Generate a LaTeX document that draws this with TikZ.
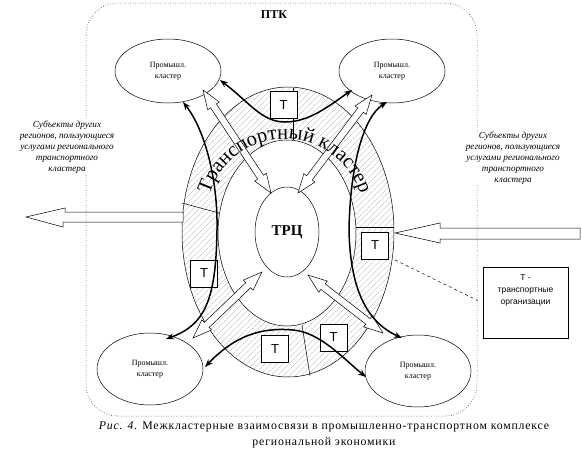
\documentclass[tikz,border=0pt]{standalone}
\usepackage{fontspec}
\setmainfont{Liberation Serif}
\setsansfont{Liberation Sans}
\usetikzlibrary{shapes.geometric,calc,patterns.meta,decorations.text,arrows.meta,positioning}

\newcommand{\arcfont}{\fontsize{20.5}{21}\selectfont}
\newcommand{\hollowarrow}[2]{%
  \draw[hollow] (#1)
    -- ($(#1)!19pt!(#2)!7pt!90:(#2)$)
    -- ($(#1)!19pt!(#2)!3.5pt!90:(#2)$)
    -- ($(#2)!19pt!(#1)!3.5pt!-90:(#1)$)
    -- ($(#2)!19pt!(#1)!7pt!-90:(#1)$)
    -- (#2)
    -- ($(#2)!19pt!(#1)!7pt!90:(#1)$)
    -- ($(#2)!19pt!(#1)!3.5pt!90:(#1)$)
    -- ($(#1)!19pt!(#2)!3.5pt!-90:(#2)$)
    -- ($(#1)!19pt!(#2)!7pt!-90:(#2)$)
    -- cycle;}

\begin{document}
\begin{tikzpicture}[x=1pt,y=-1pt,
    cluster/.style={ellipse,draw,line width=0.5pt,fill=white,minimum width=106pt,inner sep=0pt,align=center,font=\fontsize{8}{10.5}\selectfont},
    tbox/.style={draw,line width=0.5pt,fill=white,minimum size=27pt,inner sep=0pt,font=\sffamily\fontsize{13}{13}\selectfont},
    link/.style={line width=1.5pt,{Stealth[length=8pt,width=6pt]}-{Stealth[length=8pt,width=6pt]}},
    hollow/.style={draw,fill=white,line width=0.5pt},
    side/.style={fill=white,align=center,inner sep=1pt,font=\itshape\fontsize{9.2}{11}\selectfont},
    thinline/.style={line width=0.5pt}]
\def\HATCHCOLOR{gray!60}
\useasboundingbox (0,0) rectangle (582,456);

% ring of the transport cluster
\fill[pattern={Lines[angle=45,distance=4pt,line width=0.4pt]},pattern color=\HATCHCOLOR,even odd rule]
    (288,232) ellipse [x radius=106pt,y radius=145pt]
    (287,233) ellipse [x radius=69pt,y radius=93pt];
\draw[thinline] (288,232) ellipse [x radius=106pt,y radius=145pt];
\draw[thinline,fill=white] (287,233) ellipse [x radius=69pt,y radius=93pt];
\draw[thinline] (293,88) -- (293,140);
\draw[thinline] (182,203) -- (219,213);
\draw[thinline] (356,227) -- (394,227);
\draw[thinline] (302,325) -- (310,376);

\node[tbox] (ttop) at (283.5,105) {Т};
\node[tbox] (tright) at (375,245.5) {Т};
\node[tbox] (tleft) at (204,273.5) {Т};
\node[tbox] (tbl) at (275,349) {Т};
\node[tbox] (tbr) at (333.5,337.5) {Т};

\node[ellipse,draw,line width=0.5pt,fill=white,minimum width=64pt,minimum height=90pt,inner sep=0pt,
      font=\bfseries\fontsize{15}{15}\selectfont] (trc) at (287,232) {ТРЦ};

\node[cluster,minimum height=64pt] (ctl) at (168,71) {Промышл.\\кластер};
\node[cluster,minimum height=64pt] (ctr) at (392,71) {Промышл.\\кластер};
\node[cluster,minimum height=72pt] (cbl) at (150,369) {Промышл.\\кластер};
\node[cluster,minimum height=72pt] (cbr) at (418,371) {Промышл.\\кластер};

\coordinate (ea) at (203,90);  \coordinate (eb) at (271,193);
\coordinate (fa) at (372,95);  \coordinate (fb) at (298,193);
\coordinate (ga) at (193,338); \coordinate (gb) at (262,272);
\coordinate (ha) at (383,333); \coordinate (hb) at (308,275);
\hollowarrow{ea}{eb}
\hollowarrow{fa}{fb}
\hollowarrow{ga}{gb}
\hollowarrow{ha}{hb}

\coordinate (ringc) at (285,218);
\path[decorate,decoration={text along path,text align=center,
      text={|\arcfont|Транспортный кластер}}]
    (ringc) ++(166:79pt) arc[start angle=166,end angle=14,radius=79pt];

% links between the clusters
\coordinate (la) at (220,80);  \coordinate (lb) at (352,90);
\coordinate (lc) at (183,102); \coordinate (ld) at (166,339);
\coordinate (le) at (387,102); \coordinate (lf) at (402,338);
\coordinate (lg) at (205,367); \coordinate (lh) at (366,377);
\draw[link] (la) .. controls (250,103) and (262,122) .. (285,122)
    .. controls (310,122) and (330,105) .. (lb);
\draw[link] (lc) .. controls (205,130) and (218,180) .. (217,230)
    .. controls (216,300) and (205,325) .. (ld);
\draw[link] (le) .. controls (362,118) and (350,170) .. (349,230)
    .. controls (350,280) and (362,320) .. (lf);
\draw[link] (lg) .. controls (240,330) and (270,328) .. (293,330)
    .. controls (320,332) and (345,360) .. (lh);

% flows to and from other regions
\draw[hollow] (183,212) -- (65,212) -- (65,208) -- (26,217) -- (63,227) -- (63,222) -- (183,222) -- cycle;
\draw[hollow] (580,228) -- (440,228) -- (440,223) -- (395,233) -- (440,243) -- (440,239) -- (580,239) -- cycle;

\draw[dotted,thinline,rounded corners=32pt] (86,3) rectangle (477,416);
\node[font=\bfseries\fontsize{12}{12}\selectfont] (ptk) at (274,15) {ПТК};

\node[side] (regl) at (67,147) {Субъекты других\\регионов, пользующиеся\\услугами регионального\\транспортного\\кластера};
\node[side] (regr) at (513,158) {Субъекты других\\регионов, пользующиеся\\услугами регионального\\транспортного\\кластера};

\node[draw,thinline,minimum width=85pt,minimum height=71pt] (legend) at (525.5,302.5) {};
\node[align=center,font=\sffamily\fontsize{8.5}{12}\selectfont,below=4pt of legend.north] (legendtxt) {Т -\\транспортные\\организации};
\coordinate (tdash) at (395,260);
\draw[dashed,thinline] (tdash) -- ($(legend.west)+(-5,-2)$);

\node[align=center,font=\fontsize{11.8}{16}\selectfont] (caption) at (324,435)
    {\addfontfeatures{LetterSpace=7}{\itshape Рис. 4.} Межкластерные взаимосвязи в промышленно-транспортном комплексе\\
     \addfontfeatures{LetterSpace=7}региональной экономики};
\end{tikzpicture}
\end{document}
